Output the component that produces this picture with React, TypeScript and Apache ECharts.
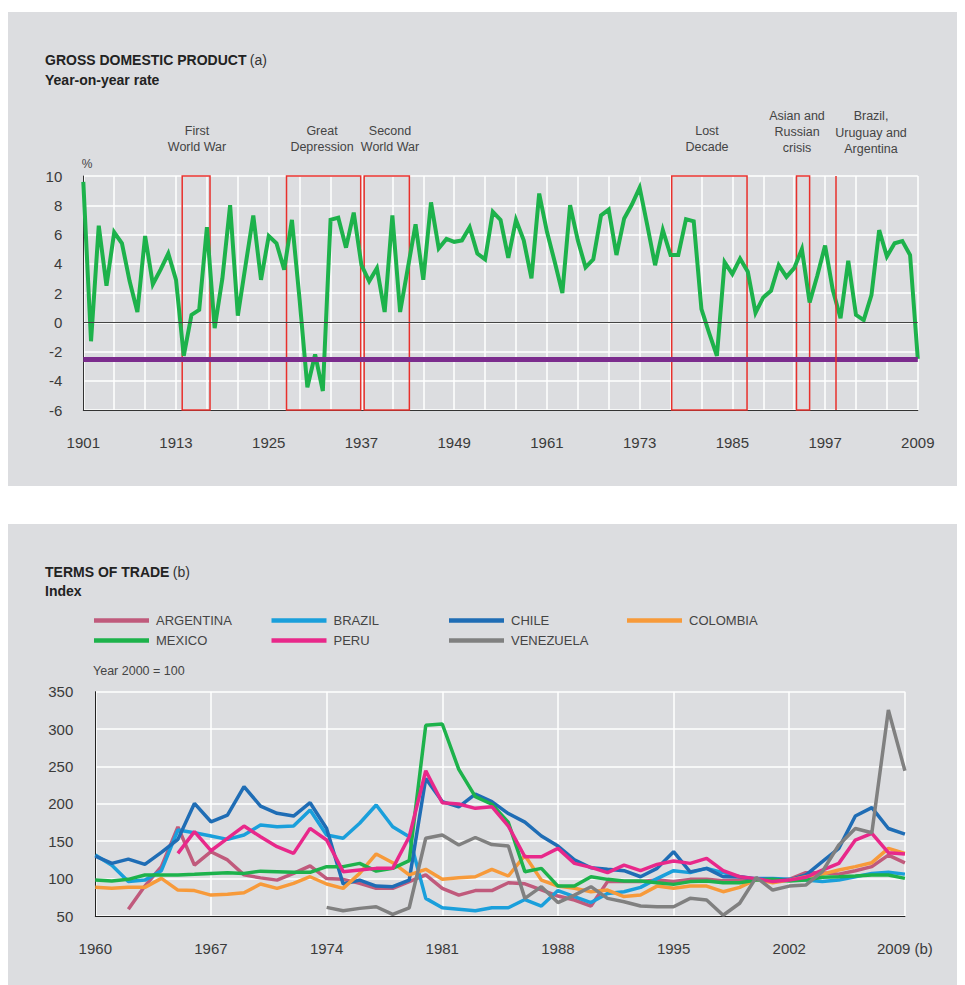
import React, { useEffect, useRef } from "react";
import * as echarts from "echarts";

// ---------- GDP (top chart) ----------
const gdpStartYear = 1901;
const gdpEndYear = 2009;
const gdpValues = [
  9.6, -1.3, 6.6, 2.5, 6.15, 5.4, 2.8, 0.7, 5.9, 2.6,
  3.6, 4.7, 2.9, -2.3, 0.5, 0.85, 6.5, -0.4, 3.0, 8.0,
  0.45, 3.9, 7.3, 2.9, 5.9, 5.4, 3.6, 7.0, 1.5, -4.45,
  -2.2, -4.7, 7.0, 7.15, 5.1, 7.5, 3.9, 2.8, 3.7, 0.7,
  7.3, 0.7, 3.7, 6.7, 2.9, 8.2, 5.05, 5.7, 5.5, 5.6,
  6.5, 4.7, 4.3, 7.55, 7.0, 4.4, 7.0, 5.6, 3.0, 8.8,
  6.2, 4.15, 2.0, 8.0, 5.6, 3.75, 4.3, 7.3, 7.7, 4.6,
  7.1, 8.05, 9.2, 6.6, 3.9, 6.3, 4.6, 4.6, 7.05, 6.9,
  0.9, -0.75, -2.3, 4.1, 3.3, 4.35, 3.45, 0.65, 1.7, 2.15,
  3.9, 3.1, 3.7, 5.0, 1.35, 3.2, 5.25, 2.2, 0.27, 4.2,
  0.5, 0.15, 1.85, 6.3, 4.5, 5.4, 5.55, 4.6, -2.5,
];
const gdpReferenceLevel = -2.5;
const crisisNames = ["First World War", "Great Depression", "Second World War", "Lost Decade", "Asian and Russian crisis"];
const crisisFrom = [1913.8, 1927.3, 1937.35, 1977.15, 1993.3];
const crisisTo = [1917.4, 1936.9, 1943.2, 1986.9, 1995.0];
const crisisLineYear = 1998.4; // Brazil, Uruguay and Argentina
const gdpYTicks = { min: -6, max: 10, step: 2 };

// ---------- Terms of trade (bottom chart) ----------
const totStartYear = 1960;
const totEndYear = 2009;
const countries = ["ARGENTINA", "BRAZIL", "CHILE", "COLOMBIA", "MEXICO", "PERU", "VENEZUELA"];
const countryColors = ["#c05a7c", "#1a9fdb", "#1f6db5", "#f79a3a", "#1db24b", "#e8288a", "#808080"];
const countryStart = [1962, 1960, 1960, 1960, 1960, 1965, 1974];
const argentina = [
  59, 90, 116, 169, 118, 136, 125, 105, 101, 98,
  107, 117, 100, 99, 93.6, 87, 87, 96, 105, 87,
  78, 84, 84, 94.5, 93, 85, 76.7, 71.4, 63.3, 96,
  96, 96, 98, 96, 99, 99, 97, 98, 99, 98,
  99, 108, 108, 106, 110.6, 116, 131.5, 121,
];
const brazil = [
  131.5, 118, 96, 98, 110.6, 165, 161.4, 157, 152.5, 158.3,
  171.7, 169.4, 170.3, 191.7, 158.3, 154, 174, 198.4, 169.4, 156,
  73.6, 61, 59, 57, 61, 61, 72, 63.3, 84, 76,
  68, 80, 82.5, 88.3, 100, 110.6, 108, 113.7, 108, 102.5,
  100, 100, 99, 98, 96, 98, 102.5, 107, 108.4, 106,
];
const chile = [
  130, 120.4, 126, 119, 135, 152.5, 200.6, 176, 185, 223,
  197, 187.3, 183.7, 201.5, 167, 92.8, 98, 90, 89.2, 98,
  234, 203, 196, 213, 203, 187, 175.5, 157, 143.5, 125,
  114.5, 112.5, 110.6, 102.5, 113.7, 136, 109, 113.7, 102.5, 102.5,
  99, 99, 98, 104.8, 122.6, 140.5, 183.7, 195, 167, 159.6,
];
const colombia = [
  88.3, 87, 88.3, 88.3, 100.3, 84.7, 84, 78, 79, 81,
  92.8, 87, 93.6, 102.5, 92.8, 87, 107, 133, 121.3, 105,
  112.4, 99, 101.2, 102.5, 112.4, 103.5, 131, 98, 90, 87,
  82.5, 84.7, 76, 78, 90, 87, 90, 90, 82.5, 88.3,
  99, 94.5, 98, 102.5, 106, 111.5, 116, 121.3, 140.5, 133.8,
];
const mexico = [
  98, 96.8, 99, 104.8, 104.8, 104.8, 105.7, 107, 108, 107,
  110, 109.3, 108.4, 108.4, 116, 116, 120.4, 110, 113.7, 124,
  305, 306.8, 246, 209.6, 199.5, 175, 109.3, 113.7, 90, 90,
  102.5, 99, 96.8, 96.8, 94.5, 92.3, 96, 96.8, 94.5, 94.5,
  98, 99, 96.8, 98, 101.7, 102.5, 103.5, 104.8, 104.8, 100.3,
];
const peru = [
  133.8, 162.8, 137.3, 153.8, 170.3,
  156, 142.7, 133.8, 167.2, 151.6, 109.3, 111.5, 113.7, 113.7, 156,
  244.3, 201.5, 199.8, 194, 196.2, 170.3, 129.3, 129.3, 140.5, 120.4,
  115, 108, 118, 110.6, 119, 123.5, 120.4, 127, 110.6, 102.5,
  100, 96, 98, 101.7, 111.5, 120.4, 151.6, 160.5, 134.7, 133,
];
const venezuela = [
  61.5, 57, 60.2, 62.4, 52.2, 61,
  154, 158.3, 145, 155, 145.5, 143.6, 73.6, 89.2, 68, 78,
  89.2, 73.6, 69.1, 63.3, 62.4, 62.4, 73.6, 71.4, 51, 67,
  101.7, 84.7, 90, 91.4, 109.3, 145, 167, 161.4, 325.5, 244.3,
];
const countryValues = [argentina, brazil, chile, colombia, mexico, peru, venezuela];
const totYTicks = { min: 50, max: 350, step: 50 };

const FONT = '"Liberation Sans", Arial, sans-serif';
const PANEL = "#dcdde0";
const TICK = "#3a3a3a";

function App() {
  const ref = useRef<HTMLDivElement>(null);

  useEffect(() => {
    if (!ref.current) return;
    const chart = echarts.init(ref.current, undefined, { renderer: "svg" });

    const gdpData = gdpValues.map((v, i) => [i, v]);
    const offset = (y: number) => y - gdpStartYear;

    const legendCols = [94, 271.5, 449, 627];
    const legendRows = [614, 634];

    const option: any = {
      animation: false,
      textStyle: { fontFamily: FONT },
      grid: [
        { left: 83.3, top: 176, width: 834.5, height: 234, outerBoundsMode: "none" },
        { left: 95.3, top: 691.7, width: 809.6, height: 224.3, outerBoundsMode: "none" },
      ],
      xAxis: [
        {
          type: "value",
          gridIndex: 0,
          min: 0,
          max: gdpEndYear - gdpStartYear,
          interval: 4,
          axisLine: { show: true, onZero: false, lineStyle: { color: "#333", width: 1 } },
          axisTick: { show: false },
          axisLabel: {
            margin: 25,
            color: TICK,
            fontSize: 15,
            fontFamily: FONT,
            formatter: (v: number) => (v % 12 === 0 ? String(gdpStartYear + v) : ""),
          },
          splitLine: { show: true, lineStyle: { color: "#ffffff", width: 1.5 } },
        },
        {
          type: "value",
          gridIndex: 1,
          min: totStartYear,
          max: totEndYear,
          interval: 7,
          axisLine: { show: true, onZero: false, lineStyle: { color: "#222", width: 1 } },
          axisTick: { show: false },
          axisLabel: {
            margin: 25,
            color: TICK,
            fontSize: 15,
            fontFamily: FONT,
            formatter: (v: number) => (v === totEndYear ? `${v} (b)` : String(v)),
          },
          splitLine: { show: true, lineStyle: { color: "#ffffff", width: 1.5 } },
        },
      ],
      yAxis: [
        {
          type: "value",
          gridIndex: 0,
          min: gdpYTicks.min,
          max: gdpYTicks.max,
          interval: gdpYTicks.step,
          axisLine: { show: true, lineStyle: { color: "#333", width: 1 } },
          axisTick: { show: false },
          axisLabel: { margin: 21, color: TICK, fontSize: 15, fontFamily: FONT },
          splitLine: { show: true, lineStyle: { color: "#ffffff", width: 1.5 } },
        },
        {
          type: "value",
          gridIndex: 1,
          min: totYTicks.min,
          max: totYTicks.max,
          interval: totYTicks.step,
          axisLine: { show: true, lineStyle: { color: "#222", width: 1 } },
          axisTick: { show: false },
          axisLabel: { margin: 22, color: TICK, fontSize: 15, fontFamily: FONT },
          splitLine: { show: true, lineStyle: { color: "#ffffff", width: 1.5 } },
        },
      ],
      legend: countries.map((name, i) => ({
        data: [name],
        left: legendCols[i % 4],
        top: legendRows[Math.floor(i / 4)],
        padding: 0,
        icon: "rect",
        itemWidth: 55,
        itemHeight: 4.5,
        selectedMode: false,
        textStyle: { fontSize: 13, color: "#444", fontFamily: FONT, padding: [0, 0, 0, 2] },
      })),
      graphic: [
        { type: "rect", z: -10, silent: true, shape: { x: 8, y: 12, width: 949, height: 474 }, style: { fill: PANEL } },
        { type: "rect", z: -10, silent: true, shape: { x: 8, y: 524, width: 949, height: 470 }, style: { fill: PANEL } },
        {
          type: "text",
          x: 45,
          y: 53,
          style: {
            text: "{b|GROSS DOMESTIC PRODUCT} {n|(a)}",
            rich: {
              b: { fontSize: 14, fontWeight: "bold", fill: "#222", fontFamily: FONT },
              n: { fontSize: 14, fill: "#333", fontFamily: FONT },
            },
          },
        },
        { type: "text", x: 45, y: 73, style: { text: "Year-on-year rate", font: `bold 14px ${FONT}`, fill: "#222" } },
        { type: "text", x: 87, y: 164, style: { text: "%", font: `12px ${FONT}`, fill: "#444", textAlign: "center", textVerticalAlign: "middle" } },
        { type: "text", x: 197, y: 123, style: { text: "First\nWorld War", font: `12.5px ${FONT}`, fill: "#444", textAlign: "center", lineHeight: 16 } },
        { type: "text", x: 322, y: 123, style: { text: "Great\nDepression", font: `12.5px ${FONT}`, fill: "#444", textAlign: "center", lineHeight: 16 } },
        { type: "text", x: 390, y: 123, style: { text: "Second\nWorld War", font: `12.5px ${FONT}`, fill: "#444", textAlign: "center", lineHeight: 16 } },
        { type: "text", x: 707, y: 123, style: { text: "Lost\nDecade", font: `12.5px ${FONT}`, fill: "#444", textAlign: "center", lineHeight: 16 } },
        { type: "text", x: 797, y: 108, style: { text: "Asian and\nRussian\ncrisis", font: `12.5px ${FONT}`, fill: "#444", textAlign: "center", lineHeight: 16 } },
        { type: "text", x: 871, y: 108, style: { text: "Brazil,\nUruguay and\nArgentina", font: `12.5px ${FONT}`, fill: "#444", textAlign: "center", lineHeight: 16.5 } },
        {
          type: "text",
          x: 45,
          y: 565,
          style: {
            text: "{b|TERMS OF TRADE} {n|(b)}",
            rich: {
              b: { fontSize: 14, fontWeight: "bold", fill: "#222", fontFamily: FONT },
              n: { fontSize: 14, fill: "#333", fontFamily: FONT },
            },
          },
        },
        { type: "text", x: 45, y: 584, style: { text: "Index", font: `bold 14px ${FONT}`, fill: "#222" } },
        { type: "text", x: 93, y: 671, style: { text: "Year 2000 = 100", font: `12.5px ${FONT}`, fill: "#444", textVerticalAlign: "middle" } },
      ],
      series: [
        {
          name: "GDP",
          type: "line",
          xAxisIndex: 0,
          yAxisIndex: 0,
          data: gdpData,
          showSymbol: false,
          lineStyle: { color: "#1db24b", width: 4, join: "miter" },
          itemStyle: { color: "#1db24b" },
          z: 3,
          markArea: {
            silent: true,
            itemStyle: { color: "rgba(0,0,0,0)", borderColor: "#e8302c", borderWidth: 1.5 },
            data: crisisNames.map((n, i) => [
              { name: "", xAxis: offset(crisisFrom[i]), yAxis: gdpYTicks.max },
              { xAxis: offset(crisisTo[i]), yAxis: gdpYTicks.min },
            ]),
          },
          markLine: {
            silent: true,
            symbol: ["none", "none"],
            label: { show: false },
            data: [
              { yAxis: 0, lineStyle: { color: "#444", width: 1, type: "solid" } },
              { yAxis: gdpReferenceLevel, lineStyle: { color: "#7b2c8d", width: 5, type: "solid" } },
              { xAxis: offset(crisisLineYear), lineStyle: { color: "#e8302c", width: 1.5, type: "solid" } },
            ],
          },
        },
        ...countries.map((name, i) => ({
          name,
          type: "line",
          xAxisIndex: 1,
          yAxisIndex: 1,
          showSymbol: false,
          data: countryValues[i].map((v, k) => [countryStart[i] + k, v]),
          lineStyle: { color: countryColors[i], width: 3.5 },
          itemStyle: { color: countryColors[i] },
          z: 3,
        })),
      ],
    };

    chart.setOption(option);
    return () => chart.dispose();
  }, []);

  return (
    <div
      ref={ref}
      style={{ position: "fixed", left: 0, top: 0, width: 965, height: 985, background: "#ffffff" }}
    />
  );
}

export default App;
